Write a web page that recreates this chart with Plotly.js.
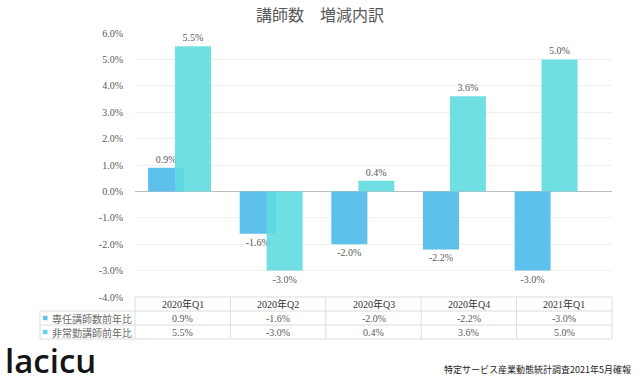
<!DOCTYPE html>
<html>
<head>
<meta charset="utf-8">
<script src="https://cdn.plot.ly/plotly-3.0.1.min.js"></script>
<style>html,body{margin:0;padding:0;background:#fff;}#chart{width:640px;height:382px;}</style>
</head>
<body>
<div id="chart"></div>
<script>
// ---- data ----
const categories = ['2020年Q1', '2020年Q2', '2020年Q3', '2020年Q4', '2021年Q1'];
const fullTimeYoY = [0.9, -1.6, -2.0, -2.2, -3.0];   // 専任講師数前年比
const partTimeYoY = [5.5, -3.0, 0.4, 3.6, 5.0];      // 非常勤講師前年比
const seriesNames = ['専任講師数前年比', '非常勤講師前年比'];
const yTickValues = [-4, -3, -2, -1, 0, 1, 2, 3, 4, 5, 6];
const chartTitle = '講師数　増減内訳';
const sourceText = '特定サービス産業動態統計調査2021年5月確報';
const logoText = 'lacicu';

// ---- styling ----
const W = 640, H = 382;
const L = 135, R = 612, T = 33, B = 297;
const colBlue = '#5ec1ec';
const colCyan = '#5fdbe0';
const grey = '#595959';
const serif = '"Liberation Serif", "DejaVu Serif", "Noto Sans CJK JP", serif';
const cjk = '"Noto Sans CJK JP", sans-serif';
const pct = v => v.toFixed(1) + '%';

const px = x => (x - L) / (R - L);
const py = y => (B - y) / (B - T);

const traces = [
  {
    type: 'bar', name: seriesNames[0], x: categories, y: fullTimeYoY,
    width: 0.393, offset: -0.343,
    marker: {color: colBlue},
    text: fullTimeYoY.map(pct), textposition: 'outside', cliponaxis: false,
    textfont: {family: serif, size: 10, color: grey},
    hoverinfo: 'skip'
  },
  {
    type: 'bar', name: seriesNames[1], x: categories, y: partTimeYoY,
    width: 0.393, offset: -0.049,
    marker: {color: colCyan, opacity: 0.9},
    text: partTimeYoY.map(pct), textposition: 'outside', cliponaxis: false,
    textfont: {family: serif, size: 10, color: grey},
    hoverinfo: 'skip'
  }
];

// ---- table below plot ----
const shapes = [];
const annotations = [];
const lineCol = '#dcdcdc';
const colEdges = [];
for (let i = 0; i <= categories.length; i++) colEdges.push(L + i * (R - L) / categories.length);
const rowLines = [297, 311, 325, 339];
shapes.push({type: 'line', xref: 'paper', yref: 'paper', x0: px(L), x1: px(R), y0: py(rowLines[0]), y1: py(rowLines[0]), line: {color: lineCol, width: 1}});
for (let k = 1; k < rowLines.length; k++) {
  shapes.push({type: 'line', xref: 'paper', yref: 'paper', x0: px(40), x1: px(R), y0: py(rowLines[k]), y1: py(rowLines[k]), line: {color: lineCol, width: 1}});
}
colEdges.forEach(x => shapes.push({type: 'line', xref: 'paper', yref: 'paper', x0: px(x), x1: px(x), y0: py(297), y1: py(339), line: {color: lineCol, width: 1}}));
shapes.push({type: 'line', xref: 'paper', yref: 'paper', x0: px(40), x1: px(40), y0: py(311), y1: py(339), line: {color: lineCol, width: 1}});

const rowCenters = [304, 318, 332];
categories.forEach((c, i) => {
  const cx = (colEdges[i] + colEdges[i + 1]) / 2;
  annotations.push({xref: 'paper', yref: 'paper', x: px(cx), y: py(rowCenters[0]), text: c, showarrow: false, font: {family: serif, size: 10, color: '#333'}, xanchor: 'center', yanchor: 'middle'});
  annotations.push({xref: 'paper', yref: 'paper', x: px(cx), y: py(rowCenters[1]), text: pct(fullTimeYoY[i]), showarrow: false, font: {family: serif, size: 10, color: grey}, xanchor: 'center', yanchor: 'middle'});
  annotations.push({xref: 'paper', yref: 'paper', x: px(cx), y: py(rowCenters[2]), text: pct(partTimeYoY[i]), showarrow: false, font: {family: serif, size: 10, color: grey}, xanchor: 'center', yanchor: 'middle'});
});
[colBlue, colCyan].forEach((c, k) => {
  const yc = rowCenters[k + 1];
  shapes.push({type: 'rect', xref: 'paper', yref: 'paper', x0: px(43), x1: px(47.5), y0: py(yc - 2.2), y1: py(yc + 2.2), fillcolor: c, line: {width: 0}});
  annotations.push({xref: 'paper', yref: 'paper', x: px(50), y: py(yc), text: seriesNames[k], showarrow: false, font: {family: cjk, size: 10, color: '#6a6a6a'}, xanchor: 'left', yanchor: 'middle'});
});

// logo and source
annotations.push({xref: 'paper', yref: 'paper', x: px(3), y: py(360), text: logoText, showarrow: false, font: {family: '"Open Sans", sans-serif', size: 33, weight: 600, color: '#151515'}, xanchor: 'left', yanchor: 'middle'});
annotations.push({xref: 'paper', yref: 'paper', x: px(633), y: py(370), text: sourceText, showarrow: false, font: {family: cjk, size: 9, color: '#222'}, xanchor: 'right', yanchor: 'middle'});

const layout = {
  width: W, height: H,
  margin: {l: L, r: W - R, t: T, b: H - B, pad: 0},
  paper_bgcolor: '#fff', plot_bgcolor: '#fff',
  showlegend: false,
  barmode: 'overlay',
  title: {text: chartTitle, x: 0.5, xanchor: 'center', y: 1 - 15 / H, yanchor: 'middle', font: {family: cjk, size: 16, color: grey}},
  xaxis: {type: 'category', range: [-0.486, 4.72], showticklabels: false, showgrid: false, zeroline: false, ticks: '', fixedrange: true},
  yaxis: {range: [-4, 6], tickvals: yTickValues, ticktext: yTickValues.map(pct), showgrid: true, gridcolor: '#f0f0f0', zeroline: true, zerolinecolor: '#bdbdbd', zerolinewidth: 1,
          ticks: 'outside', ticklen: 9, tickcolor: 'rgba(0,0,0,0)', tickfont: {family: serif, size: 10, color: grey}, fixedrange: true},
  shapes: shapes,
  annotations: annotations
};

Plotly.newPlot('chart', traces, layout, {staticPlot: true, displayModeBar: false});
</script>
</body>
</html>
